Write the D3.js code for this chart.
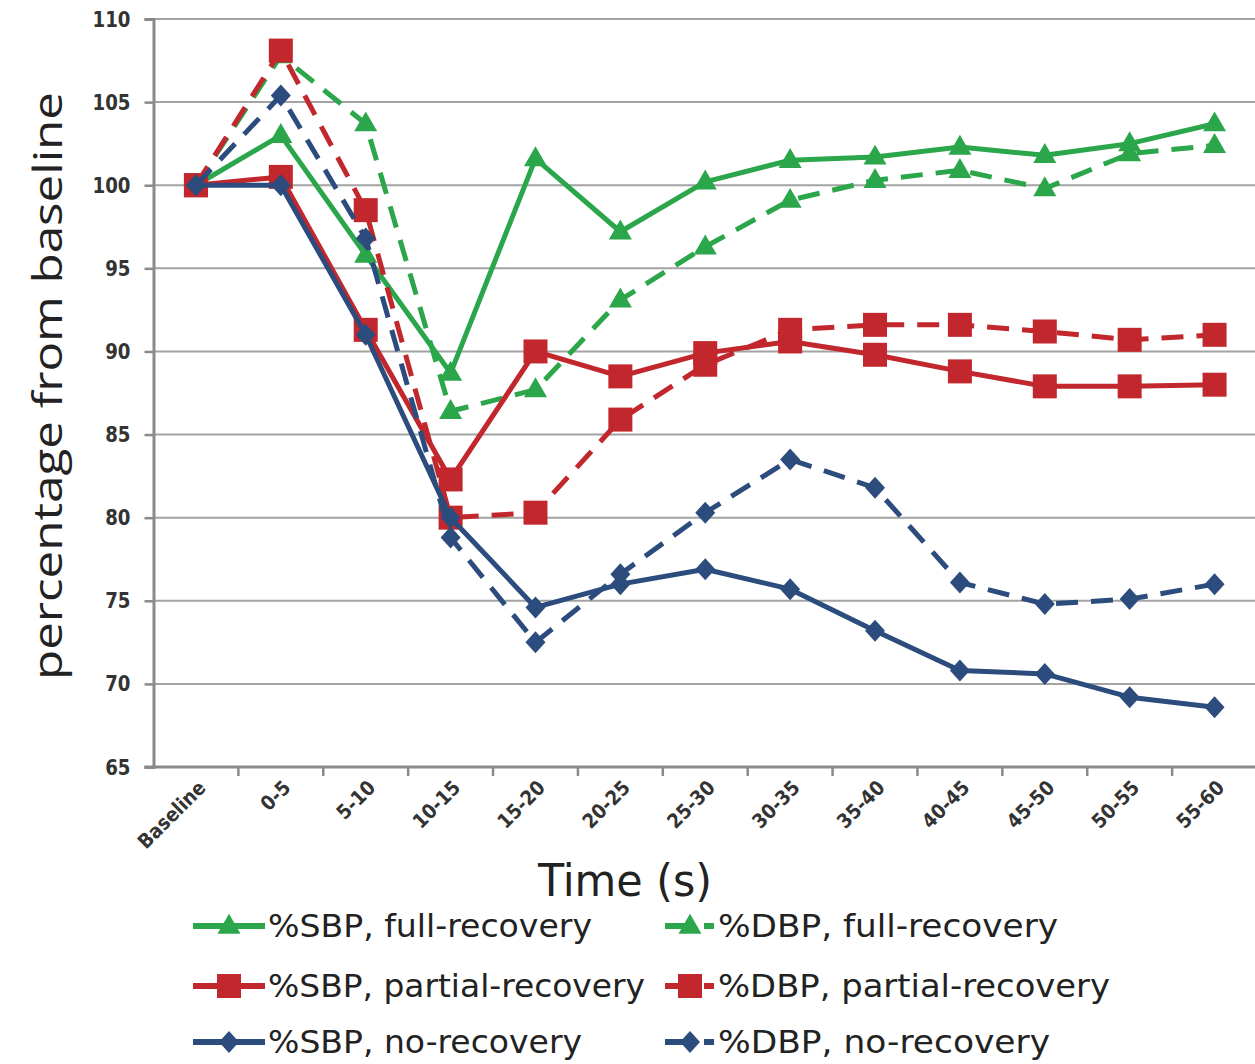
<!DOCTYPE html>
<html><head><meta charset="utf-8">
<script src="https://cdn.jsdelivr.net/npm/d3@7"></script>
<style>body{margin:0;background:#fff}svg{display:block}</style>
</head><body>
<svg id="c" width="1255" height="1064"></svg>
<script>
const categories = ["Baseline","0-5","5-10","10-15","15-20","20-25","25-30","30-35","35-40","40-45","45-50","50-55","55-60"];
const sbpFull    = [100,103.0,95.8,88.7,101.6,97.2,100.2,101.5,101.7,102.3,101.8,102.5,103.7];
const dbpFull    = [100,107.8,103.7,86.4,87.7,93.1,96.3,99.1,100.3,100.9,99.8,101.9,102.4];
const sbpPartial = [100,100.5,91.3,82.3,90.0,88.5,89.9,90.6,89.8,88.8,87.9,87.9,88.0];
const dbpPartial = [100,108.1,98.5,80.0,80.3,85.9,89.2,91.3,91.6,91.6,91.2,90.7,91.0];
const sbpNo      = [100,100.0,91.0,80.0,74.6,76.0,76.9,75.7,73.2,70.8,70.6,69.2,68.6];
const dbpNo      = [100,105.4,96.8,78.8,72.5,76.6,80.3,83.5,81.8,76.1,74.8,75.1,76.0];
const yTicks = [65,70,75,80,85,90,95,100,105,110];
const seriesNames = ["%SBP, full-recovery","%DBP, full-recovery","%SBP, partial-recovery","%DBP, partial-recovery","%SBP, no-recovery","%DBP, no-recovery"];

(function(){
const green="#2ba64b", red="#c1272d", blue="#2c4c7e";
const condensed="'DejaVu Sans Condensed','DejaVu Sans',sans-serif";
const series = [
  {name:seriesNames[0], values:sbpFull, color:green, dash:null, marker:"tri"},
  {name:seriesNames[1], values:dbpFull, color:green, dash:"22,13", marker:"tri"},
  {name:seriesNames[2], values:sbpPartial, color:red, dash:null, marker:"sq"},
  {name:seriesNames[3], values:dbpPartial, color:red, dash:"22,13", marker:"sq"},
  {name:seriesNames[4], values:sbpNo, color:blue, dash:null, marker:"dia"},
  {name:seriesNames[5], values:dbpNo, color:blue, dash:"22,13", marker:"dia"}
];

const svg = d3.select("#c");
const pl=153.5, pr=1257, pt=19, pb=767;
const x = d3.scaleBand().domain(categories).range([pl,pr]);
const y = d3.scaleLinear().domain([65,110]).range([pb,pt]);
const cx = d => x(d)+x.bandwidth()/2;

// gridlines
svg.append("g").selectAll("line").data(yTicks.filter(t=>t>65)).join("line")
  .attr("x1",pl).attr("x2",1255).attr("y1",d=>y(d)).attr("y2",d=>y(d))
  .attr("stroke","#a3a3a3").attr("stroke-width",2);

// y axis
const ya = svg.append("g").attr("transform",`translate(${pl},0)`)
  .call(d3.axisLeft(y).tickValues(yTicks).tickSize(9).tickPadding(14));
ya.select(".domain").attr("stroke","#8a8a8a").attr("stroke-width",3);
ya.selectAll(".tick line").attr("stroke","#8a8a8a").attr("stroke-width",2.5);
ya.selectAll(".tick text").attr("font-family",condensed)
  .attr("font-weight","bold").attr("font-size",22).attr("fill","#333")
  .attr("transform","scale(0.92,1)").attr("dx",-2);

// x axis
const xa = svg.append("g").attr("transform",`translate(0,${pb})`)
  .call(d3.axisBottom(x).tickSize(0).tickPadding(0));
xa.select(".domain").remove();
svg.append("line").attr("x1",pl-9).attr("x2",1255).attr("y1",pb).attr("y2",pb)
  .attr("stroke","#8a8a8a").attr("stroke-width",3);
svg.append("g").selectAll("line").data(categories.slice(1)).join("line")
  .attr("x1",d=>x(d)).attr("x2",d=>x(d)).attr("y1",pb).attr("y2",pb+9)
  .attr("stroke","#8a8a8a").attr("stroke-width",2.5);
xa.selectAll(".tick text")
  .attr("font-family",condensed)
  .attr("font-weight","bold").attr("font-size",20).attr("fill","#333")
  .attr("text-anchor","end").attr("dy",0)
  .attr("transform","translate(11,22) rotate(-45)");

// lines
const line = d3.line().x((d,i)=>cx(categories[i])).y(d=>y(d));
function marker(g, type, color, px, py){
  if(type==="tri"){
    g.append("path").attr("d",d3.symbol(d3.symbolTriangle, 230)()).attr("transform",`translate(${px},${py+1})`).attr("fill",color);
  } else if(type==="sq"){
    g.append("rect").attr("x",px-12).attr("y",py-12).attr("width",24).attr("height",24).attr("fill",color);
  } else {
    g.append("path").attr("d","M0,-11L10,0L0,11L-10,0Z").attr("transform",`translate(${px},${py})`).attr("fill",color);
  }
}
series.forEach(s=>{
  const g = svg.append("g");
  g.append("path").attr("d",line(s.values)).attr("fill","none").attr("stroke",s.color)
    .attr("stroke-width",5).attr("stroke-dasharray",s.dash).attr("stroke-linejoin","round");
  s.values.forEach((v,i)=>marker(g,s.marker,s.color,cx(categories[i]),y(v)));
});

// axis titles
svg.append("text").attr("transform","translate(62,386) rotate(-90)").attr("text-anchor","middle")
  .attr("font-family","'Open Sans',sans-serif").attr("font-size",40).attr("fill","#222")
  .attr("textLength",588).attr("lengthAdjust","spacingAndGlyphs").text("percentage from baseline");
svg.append("text").attr("x",538).attr("y",896)
  .attr("font-family",condensed).attr("font-size",44).attr("fill","#222")
  .attr("textLength",174).attr("lengthAdjust","spacingAndGlyphs").text("Time (s)");

// legend
const legRows=[926,986,1042];
const legW=[324,340,377,392,314,332];
series.forEach((s,i)=>{
  const col=i%2, row=Math.floor(i/2), ly=legRows[row];
  const g=svg.append("g");
  if(col===0){
    g.append("line").attr("x1",193).attr("x2",265).attr("y1",ly).attr("y2",ly).attr("stroke",s.color).attr("stroke-width",6);
    marker(g,s.marker,s.color,229,ly);
  } else {
    g.append("line").attr("x1",665).attr("x2",688).attr("y1",ly).attr("y2",ly).attr("stroke",s.color).attr("stroke-width",6);
    g.append("line").attr("x1",704).attr("x2",714).attr("y1",ly).attr("y2",ly).attr("stroke",s.color).attr("stroke-width",6);
    marker(g,s.marker,s.color,690,ly);
  }
  g.append("text").attr("x",col===0?268:718).attr("y",ly+11)
    .attr("font-family",condensed).attr("font-size",32).attr("fill","#222")
    .attr("textLength",legW[i]).attr("lengthAdjust","spacingAndGlyphs").text(s.name);
});
})();
</script>
</body></html>
